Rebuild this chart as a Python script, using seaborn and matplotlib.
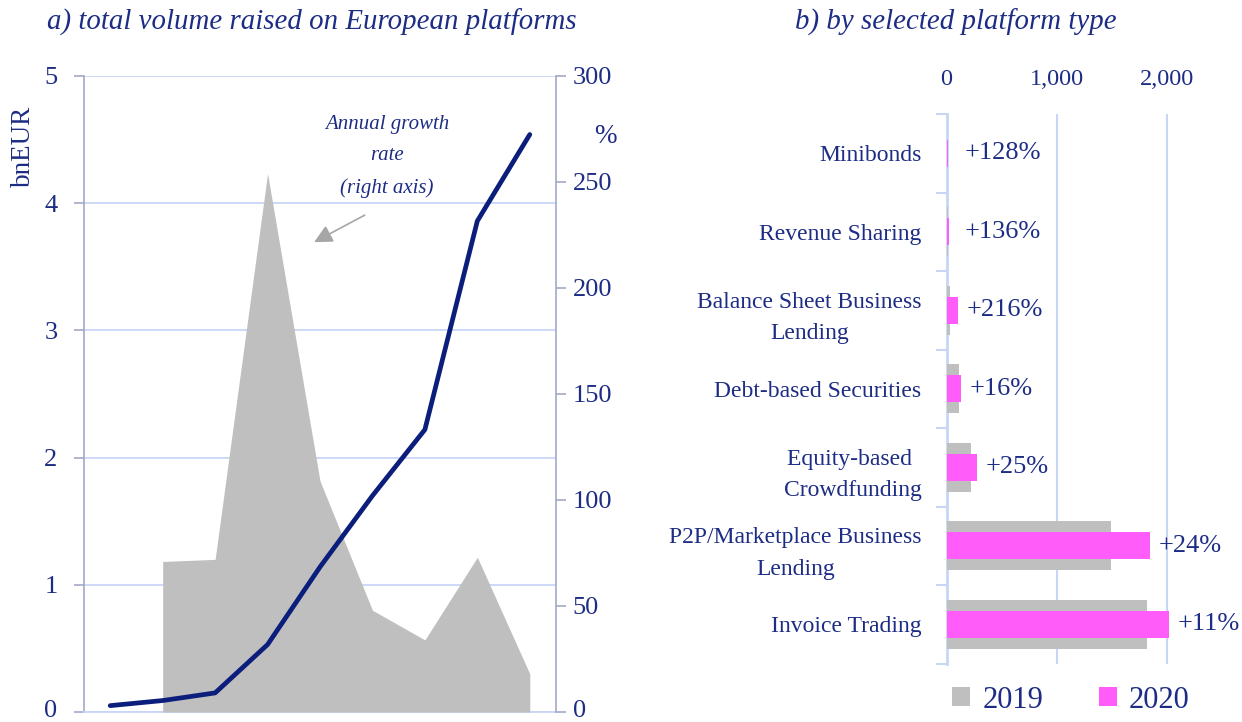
import numpy as np
import pandas as pd
import matplotlib
matplotlib.use("Agg")
import matplotlib.pyplot as plt
from matplotlib.patches import Patch
from matplotlib.transforms import ScaledTranslation
import seaborn as sns

# ---- data -------------------------------------------------------------
years = [2012, 2013, 2014, 2015, 2016, 2017, 2018, 2019, 2020]
volume_bn = [0.05, 0.09, 0.15, 0.53, 1.14, 1.70, 2.22, 3.86, 4.54]
growth_years = [2013, 2014, 2015, 2016, 2017, 2018, 2019, 2020]
growth_pct = [71, 72, 254, 109, 48, 34, 73, 18]

platforms = [
    "Minibonds",
    "Revenue Sharing",
    "Balance Sheet Business\nLending",
    "Debt-based Securities",
    "Equity-based \nCrowdfunding",
    "P2P/Marketplace Business\nLending",
    "Invoice Trading",
]
vol_2019 = [5, 10, 33, 111, 222, 1485, 1815]
vol_2020 = [11.4, 23.6, 104, 129, 278, 1841, 2015]
change_labels = ["+128%", "+136%", "+216%", "+16%", "+25%", "+24%", "+11%"]

left_ticks = [0, 1, 2, 3, 4, 5]
right_ticks = [0, 50, 100, 150, 200, 250, 300]
bar_ticks = [0, 1000, 2000]
bar_tick_labels = ["0", "1,000", "2,000"]

# ---- style ------------------------------------------------------------
sns.set_style("white")
plt.rcParams["font.family"] = ["Liberation Serif", "DejaVu Serif"]

NAVY = "#1d2c84"
LINE = "#0b1e7c"
GRID = "#c8d6f6"
SPINE = "#a4a8c8"
GREY = "#bfbfbf"
PINK = "#ff5cfa"

W, H = 1242, 722
fig = plt.figure(figsize=(W / 100, H / 100), dpi=100)

# ---- panel a: total volume and growth ----------------------------------
ax = fig.add_axes([84 / W, 1 - 712 / H, 472 / W, 636 / H])
ax2 = ax.twinx()
ax3 = ax.twinx()

idx = np.arange(len(years))
gidx = np.array([years.index(y) for y in growth_years])

ax.set_xlim(-0.5, len(years) - 0.5)
ax.set_ylim(0, 5)
ax.set_yticks(left_ticks)
ax.set_xticks([])
ax.yaxis.grid(True, color=GRID, linewidth=1.3)
ax.tick_params(axis="y", direction="out", length=7, width=1.2, color=SPINE,
               pad=12, labelsize=19, labelcolor=NAVY, left=True)
for side in ["top", "right"]:
    ax.spines[side].set_visible(False)
ax.spines["left"].set_color(SPINE)
ax.spines["left"].set_linewidth(1.2)
ax.spines["bottom"].set_color(GRID)
ax.spines["bottom"].set_linewidth(1.3)
ax.set_ylabel("bnEUR", fontsize=19.5, color=NAVY, rotation=90)
ax.yaxis.set_label_coords(-0.102, 0.89)

# growth rate area on the right axis
ax2.fill_between(gidx, growth_pct, 0, color=GREY, linewidth=0)
ax2.set_xlim(-0.5, len(years) - 0.5)
ax2.set_ylim(0, 300)
ax2.set_yticks(right_ticks)
ax2.tick_params(axis="y", direction="out", length=7, width=1.2, color=SPINE,
                pad=5, labelsize=19, labelcolor=NAVY, right=True)
for side in ["top", "left", "bottom"]:
    ax2.spines[side].set_visible(False)
ax2.spines["right"].set_color(SPINE)
ax2.spines["right"].set_linewidth(1.2)
ax2.text(1.104, 0.905, "%", transform=ax2.transAxes, fontsize=19.5,
         color=NAVY, ha="center", va="center")

# lift the two zero labels a little so they sit inside the figure
lift = ScaledTranslation(0, 2.5 / 72, fig.dpi_scale_trans)
for a in (ax, ax2):
    for lbl in a.get_yticklabels():
        if lbl.get_text() == "0":
            lbl.set_transform(lbl.get_transform() + lift)

ax2.text(5.28, 262, "Annual growth\nrate\n(right axis)", fontsize=15,
         style="italic", color=NAVY, ha="center", va="center",
         linespacing=1.85)
ax2.annotate("", xy=(3.84, 221), xytext=(4.9, 235),
             arrowprops=dict(arrowstyle="-|>,head_length=1.1,head_width=0.55",
                             color="#a6a6a6", lw=1.2))

# total volume line, sharing the left scale
sns.lineplot(x=idx, y=volume_bn, ax=ax3, color=LINE, linewidth=3.4,
             solid_capstyle="round")
ax3.set_xlim(-0.5, len(years) - 0.5)
ax3.set_ylim(0, 5)
ax3.set_axis_off()

fig.text(312 / W, 1 - 22 / H, "a) total volume raised on European platforms",
         fontsize=20.8, style="italic", color=NAVY, ha="center", va="center")

# ---- panel b: volumes by platform type --------------------------------
bx = fig.add_axes([946.6 / W, 1 - 663.6 / H, (1222 - 946.6) / W, (663.6 - 114) / H])
df = pd.DataFrame({"platform": platforms, "y2019": vol_2019, "y2020": vol_2020})
sns.barplot(data=df, y="platform", x="y2019", order=platforms, color=GREY,
            width=0.62, saturation=1, ax=bx, orient="h", linewidth=0,
            edgecolor="none")
sns.barplot(data=df, y="platform", x="y2020", order=platforms, color=PINK,
            width=0.34, saturation=1, ax=bx, orient="h", linewidth=0,
            edgecolor="none")
# keep the bars above the axis line so the smallest ones stay visible
for p in bx.patches:
    p.set_zorder(3)

bx.set_xlim(0, 2495)
bx.set_ylim(len(platforms) - 0.5, -0.5)
bx.set_xlabel("")
bx.set_ylabel("")
bx.xaxis.tick_top()
bx.set_xticks(bar_ticks)
bx.set_xticklabels(bar_tick_labels)
bx.xaxis.grid(True, color=GRID, linewidth=1.5)
bx.set_axisbelow(True)
bx.tick_params(axis="x", length=0, pad=17.5, labelsize=17.5, labelcolor=NAVY)
bx.tick_params(axis="y", which="major", length=0, pad=18, labelsize=17,
               labelcolor=NAVY)
bx.set_yticks(np.arange(-0.5, len(platforms), 1), minor=True)
bx.tick_params(axis="y", which="minor", direction="out", length=8, width=1.5,
               color=GRID, left=True)
for lbl in bx.get_yticklabels():
    lbl.set_linespacing(1.65)
    lbl.set_multialignment("center")
for side in ["top", "right", "bottom"]:
    bx.spines[side].set_visible(False)
bx.spines["left"].set_color(GRID)
bx.spines["left"].set_linewidth(2)

for i, (v, txt) in enumerate(zip(vol_2020, change_labels)):
    bx.annotate(txt, xy=(max(v, 90), i), xytext=(6, 0),
                textcoords="offset points", ha="left", va="center",
                fontsize=19, color=NAVY)

fig.text(956 / W, 1 - 22 / H, "b) by selected platform type",
         fontsize=20.8, style="italic", color=NAVY, ha="center", va="center")

handles = [Patch(facecolor=GREY, edgecolor="none", label="2019"),
           Patch(facecolor=PINK, edgecolor="none", label="2020")]
fig.legend(handles=handles, loc="center", bbox_to_anchor=(1071 / W, 1 - 700 / H),
           ncol=2, frameon=False, fontsize=22, labelcolor=NAVY,
           handlelength=0.6, handleheight=0.6, handletextpad=0.4,
           columnspacing=1.8)

fig.savefig("out.png", dpi=100)
